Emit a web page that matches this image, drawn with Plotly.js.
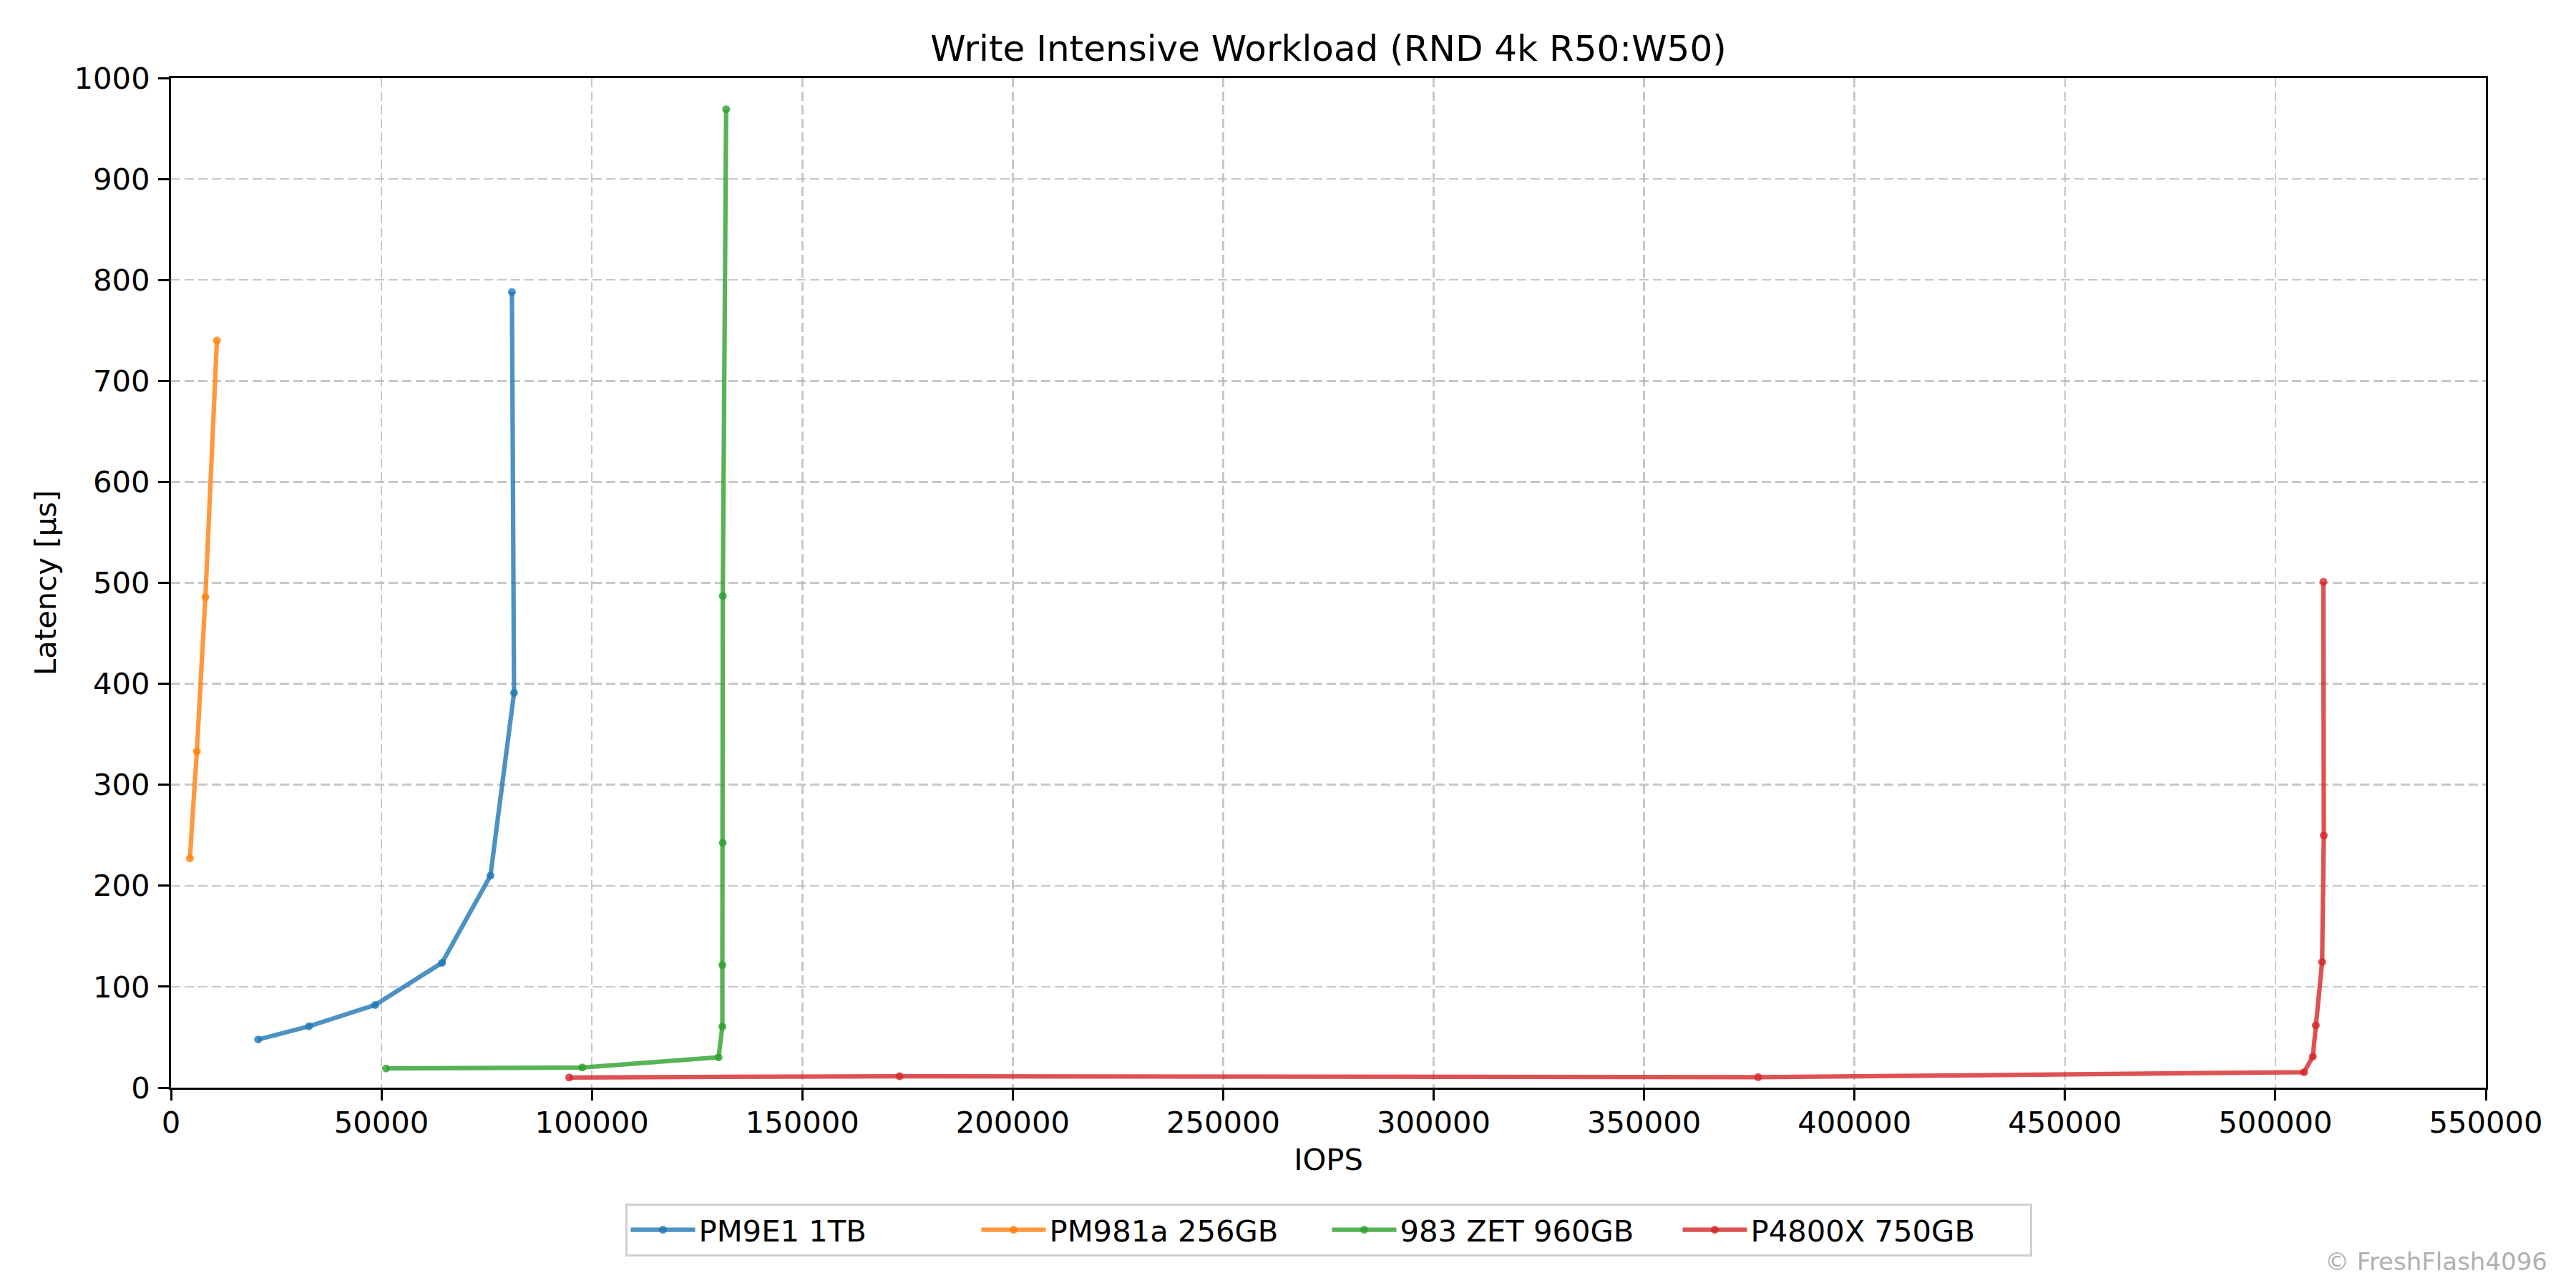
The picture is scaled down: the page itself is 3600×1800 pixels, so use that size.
<!DOCTYPE html>
<html>
<head>
<meta charset="utf-8">
<script src="https://cdn.plot.ly/plotly-3.0.1.min.js"></script>
<style>html,body{margin:0;padding:0;background:#fff;}</style>
</head>
<body>
<div id="chart" style="width:3600px;height:1800px;"></div>
<script>
// ---- data ----
const seriesNames = ["PM9E1 1TB", "PM981a 256GB", "983 ZET 960GB", "P4800X 750GB"];

const pm9e1Iops = [20700, 32800, 48500, 64400, 75900, 81500, 81000];
const pm9e1Lat  = [47.7, 60.8, 81.9, 123.7, 210, 391, 788];

const pm981aIops = [4480, 6130, 8170, 10900];
const pm981aLat  = [227, 333, 486, 740];

const zetIops = [51100, 97700, 130100, 131000, 131000, 131100, 131100, 131900];
const zetLat  = [19, 20, 30, 60.5, 121.5, 242.5, 487, 969];

const p4800xIops = [94600, 173100, 377100, 506800, 508900, 509600, 511100, 511500, 511400];
const p4800xLat  = [10.1, 11.3, 10.4, 15.3, 30.8, 61.7, 124.4, 249.8, 501];

const xTickVals = [0, 50000, 100000, 150000, 200000, 250000, 300000, 350000, 400000, 450000, 500000, 550000];
const yTickVals = [0, 100, 200, 300, 400, 500, 600, 700, 800, 900, 1000];

// ---- styling ----
const colors = ["rgba(31,119,180,0.8)", "rgba(255,127,14,0.8)", "rgba(44,160,44,0.8)", "rgba(214,39,40,0.8)"];
const FONT = "DejaVu Sans, Liberation Sans, sans-serif";

function mk(x, y, i) {
  return {
    x: x, y: y, name: seriesNames[i], type: "scatter", mode: "lines+markers",
    line: {color: colors[i], width: 6.25},
    marker: {color: colors[i], size: 11, line: {width: 0}},
    showlegend: true
  };
}

const data = [
  mk(pm9e1Iops, pm9e1Lat, 0),
  mk(pm981aIops, pm981aLat, 1),
  mk(zetIops, zetLat, 2),
  mk(p4800xIops, p4800xLat, 3)
];

const axisCommon = {
  showline: true, linecolor: "#000", linewidth: 3, mirror: true,
  ticks: "outside", ticklen: 15, tickwidth: 3, tickcolor: "#000",
  showgrid: true, gridcolor: "rgba(176,176,176,0.7)", gridwidth: 2.5, griddash: "13px,6px",
  zeroline: false, automargin: false,
  tickfont: {family: FONT, size: 41.7, color: "#000"}
};

const layout = {
  width: 3600, height: 1800,
  paper_bgcolor: "#fff", plot_bgcolor: "#fff",
  margin: {l: 239, r: 126, t: 109, b: 280, pad: 0},
  font: {family: FONT, color: "#000"},
  title: {
    text: "Write Intensive Workload (RND 4k R50:W50)",
    font: {family: FONT, size: 50, color: "#000"},
    x: 0.5, xref: "paper", xanchor: "center",
    y: 1 - 67/1800, yref: "container", yanchor: "middle"
  },
  xaxis: Object.assign({}, axisCommon, {
    range: [0, 550000], tickvals: xTickVals, tickformat: "d",
    ticklabelstandoff: -5,
    title: {text: "IOPS", font: {family: FONT, size: 41.7, color: "#000"}, standoff: 14}
  }),
  yaxis: Object.assign({}, axisCommon, {
    range: [0, 1000], tickvals: yTickVals, tickformat: "d",
    ticklabelstandoff: 3,
    title: {text: "Latency [µs]", font: {family: FONT, size: 41.7, color: "#000"}, standoff: 12}
  }),
  legend: {
    orientation: "h", x: 0.5, xanchor: "center", y: -0.1148, yanchor: "top",
    font: {family: FONT, size: 41.7, color: "#000"},
    bordercolor: "#d0d0d0", borderwidth: 3, bgcolor: "rgba(255,255,255,0.8)",
    entrywidth: 385, entrywidthmode: "pixels", itemwidth: 90
  },
  annotations: [{
    text: "© FreshFlash4096", showarrow: false,
    xref: "paper", yref: "paper", xanchor: "right", yanchor: "middle",
    x: (3562 - 239) / (3474 - 239), y: -(1763 - 1520) / 1411,
    font: {family: FONT, size: 34, color: "#b0b0b0"}
  }]
};

Plotly.newPlot("chart", data, layout, {displayModeBar: false, staticPlot: true});
</script>
</body>
</html>
